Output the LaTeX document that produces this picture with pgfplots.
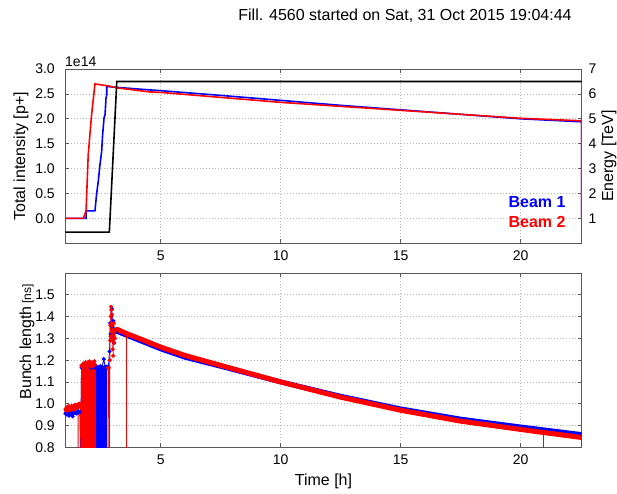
\documentclass[border=0pt]{standalone}
\usepackage{fontspec}
\setmainfont{Liberation Sans}
\usepackage{pgfplots}
\pgfplotsset{compat=1.18}

\pgfplotsset{
  base/.style={
    scale only axis, width=516.4pt, height=174.3pt, anchor=south west,
    xmin=1.025, xmax=22.54,
    xtick={5,10,15,20},
    axis line style={black!65, line width=1pt},
    tick style={black!65, line width=0.8pt},
    major tick length=4pt,
    tick align=inside,
    ticklabel style={font=\fontsize{14}{16}\selectfont},
    /pgf/number format/assume math mode=true,
    xticklabel style={yshift=-4pt},
    yticklabel style={xshift=-7pt},
    major grid style={gray!55, line width=0.7pt, dash pattern=on 1pt off 2pt},
    label style={font=\fontsize{16}{19}\selectfont},
  },
  onedec/.style={yticklabel style={/pgf/number format/.cd, fixed, fixed zerofill, precision=1}},
}

\begin{document}
\begin{tikzpicture}[x=1pt,y=1pt]
\useasboundingbox (0,0) rectangle (617,493);

% ---------------- top: intensity ----------------
\begin{axis}[base, onedec, at={(65.3pt,249.7pt)},
  ymin=-0.5, ymax=3.0, ytick={0,0.5,1.0,1.5,2.0,2.5,3.0},
  ytick pos=left, grid=major,
  ylabel={Total intensity [p+]},
  ylabel style={at={(axis description cs:-0.086,0.5)}, anchor=center},
]
\addplot[blue, line width=1.6pt] coordinates {
(1.025,0)(1.89,0)(1.89,0.15)(2.26,0.15)(2.33,0.49)(2.40,0.75)(2.47,1.08)(2.54,1.35)(2.58,1.68)(2.64,2.02)(2.68,2.08)(2.72,2.41)(2.75,2.48)(2.75,2.65)
(3.2,2.63)(4.55,2.58)(5,2.565)(7.5,2.47)(10,2.37)(12.5,2.27)(15,2.18)(17.5,2.09)(20,2.00)(22.54,1.94)(22.54,0)};
\addplot[red, line width=1.6pt] coordinates {
(1.025,0)(1.775,0)(1.89,0.15)(1.98,1.28)(2.12,2.08)(2.26,2.70)(2.82,2.66)
(3.2,2.62)(4.55,2.54)(5,2.53)(7.5,2.43)(10,2.33)(12.5,2.25)(15,2.17)(17.5,2.09)(20,2.01)(22.54,1.96)(22.54,0)};
\node[anchor=east, font=\bfseries\fontsize{16}{19}\selectfont, text=blue, inner sep=0pt] at (axis description cs:0.969,0.239) {Beam 1};
\node[anchor=east, font=\bfseries\fontsize{16}{19}\selectfont, text=red, inner sep=0pt] at (axis description cs:0.969,0.124) {Beam 2};
\end{axis}

% ---------------- top: energy ----------------
\begin{axis}[base, at={(65.3pt,249.7pt)},
  ymin=0, ymax=7, ytick={1,2,3,4,5,6,7},
  ytick pos=right, xtick=\empty,
  axis x line=none,
  yticklabel style={xshift=10.5pt},
  ylabel={Energy [TeV]}, 
  ylabel style={at={(axis description cs:1.053,0.5)}, anchor=center, rotate=0},
]
\addplot[black, line width=1.6pt] coordinates {(1.025,0.45)(2.86,0.45)(3.17,6.5)(22.54,6.5)};
\end{axis}

% ---------------- bottom: bunch length ----------------
\begin{axis}[base, onedec, at={(65.3pt,45.7pt)},
  ymin=0.8, ymax=1.6, ytick={0.8,0.9,1.0,1.1,1.2,1.3,1.4,1.5},
  grid=major,
  xlabel={Time [h]},
  xlabel style={at={(axis description cs:0.5,-0.194)}, anchor=center},
  ylabel={Bunch length\,{\fontsize{12}{14}\selectfont[ns]}},
  ylabel style={at={(axis description cs:-0.074,0.605)}, anchor=center},
]
% blue filled region and early points
\addplot[blue, fill=blue, line width=0.6pt] coordinates {(2.30,0.78)(2.30,1.165)(2.75,1.165)(2.75,0.78)};
\addplot[blue, line width=0.8pt, mark=*, mark size=1.6pt] coordinates {
(1.03,0.955)(1.06,0.96)(1.09,0.95)(1.12,0.962)(1.15,0.955)(1.18,0.945)(1.21,0.958)(1.24,0.962)(1.27,0.95)(1.30,0.96)(1.33,0.942)(1.36,0.955)(1.39,0.962)(1.42,0.958)(1.45,0.965)(1.48,0.955)(1.51,0.962)(1.54,0.958)(1.57,0.965)(1.60,0.96)(1.63,0.962)(1.66,0.78)
(1.70,1.165)(1.80,1.17)(1.90,1.165)(2.0,1.17)(2.10,1.165)(2.20,1.168)(2.28,1.165)
(2.32,1.17)(2.40,1.168)(2.48,1.172)(2.56,1.17)(2.63,1.205)(2.68,1.17)(2.75,1.17)(2.82,1.17)
(2.87,1.24)(2.89,1.37)(2.91,1.32)(2.94,1.40)(2.97,1.435)(2.99,1.35)(3.01,1.30)(3.03,1.38)(3.05,1.28)(3.08,1.34)(3.12,1.33)};
\addplot[blue, line width=5pt] coordinates {
(3.12,1.335)(4.14,1.29)(5,1.252)(6,1.214)(7.5,1.172)(10,1.10)(12.5,1.034)(15,0.976)(17.5,0.929)(20,0.893)(22.54,0.858)};
% red filled regions and early points
\addplot[red, fill=red, line width=0.6pt] coordinates {(1.70,0.78)(1.70,1.175)(1.84,1.175)(1.84,0.78)};
\addplot[red, fill=red, line width=0.6pt] coordinates {(1.90,0.78)(1.90,1.18)(2.26,1.18)(2.26,0.78)};
\addplot[red, line width=0.8pt, mark=*, mark size=1.6pt] coordinates {
(1.03,0.975)(1.05,0.968)(1.07,0.98)(1.09,0.972)(1.11,0.985)(1.13,0.97)(1.15,0.978)(1.17,0.99)(1.19,0.975)(1.21,0.982)(1.23,0.97)(1.25,0.985)(1.27,0.978)(1.29,0.99)(1.31,0.975)(1.33,0.985)(1.35,0.98)(1.37,0.99)(1.39,0.972)(1.41,0.985)(1.43,0.995)(1.45,0.98)(1.47,0.99)(1.49,0.985)(1.51,0.995)(1.53,0.98)(1.55,0.99)(1.56,0.78)(1.57,0.985)(1.59,1.0)(1.61,0.99)(1.63,0.995)(1.65,1.0)(1.67,0.78)
(1.70,1.175)(1.72,1.17)(1.74,1.18)(1.77,1.165)(1.80,1.185)(1.83,1.175)(1.86,1.19)(1.87,0.78)(1.88,1.17)(1.91,1.185)(1.94,1.16)(1.97,1.19)(2.0,1.175)(2.03,1.195)(2.06,1.18)(2.09,1.19)(2.12,1.17)(2.15,1.185)(2.18,1.19)(2.21,1.175)(2.24,1.195)(2.26,1.18)(2.27,0.78)
(2.80,0.78)(2.80,1.165)(2.84,1.165)(2.86,0.78)(2.88,1.20)(2.89,1.29)(2.90,1.36)(2.91,1.31)(2.92,1.40)(2.93,1.445)(2.94,1.43)(2.95,1.37)(2.96,1.33)(2.97,1.41)(2.98,1.29)(2.99,1.36)(3.00,1.25)(3.01,1.34)(3.02,1.22)(3.03,1.30)(3.05,1.37)(3.06,1.28)(3.08,1.33)(3.10,1.30)(3.12,1.34)(3.15,1.343)};
\addplot[red, line width=5pt] coordinates {
(3.15,1.343)(3.58,1.322)(4.14,1.298)(5,1.26)(6,1.222)(7.5,1.176)(10,1.10)(12.5,1.03)(15,0.97)(17.5,0.92)(20,0.882)(20.94,0.868)(22.54,0.845)};
\addplot[red, line width=1pt] coordinates {(3.58,1.322)(3.58,0.78)};
\addplot[red, line width=1pt] coordinates {(20.94,0.868)(20.94,0.78)};
\addplot[red, line width=1pt] coordinates {(22.54,0.845)(22.54,0.78)};
\end{axis}

\node[anchor=base west, font=\fontsize{14}{16}\selectfont, inner sep=0pt] at (65,426.5) {1e14};
\node[anchor=base, font=\fontsize{16}{19}\selectfont, inner sep=0pt] at (405,472.3) {Fill. 4560 started on Sat, 31 Oct 2015 19:04:44};
\end{tikzpicture}
\end{document}
